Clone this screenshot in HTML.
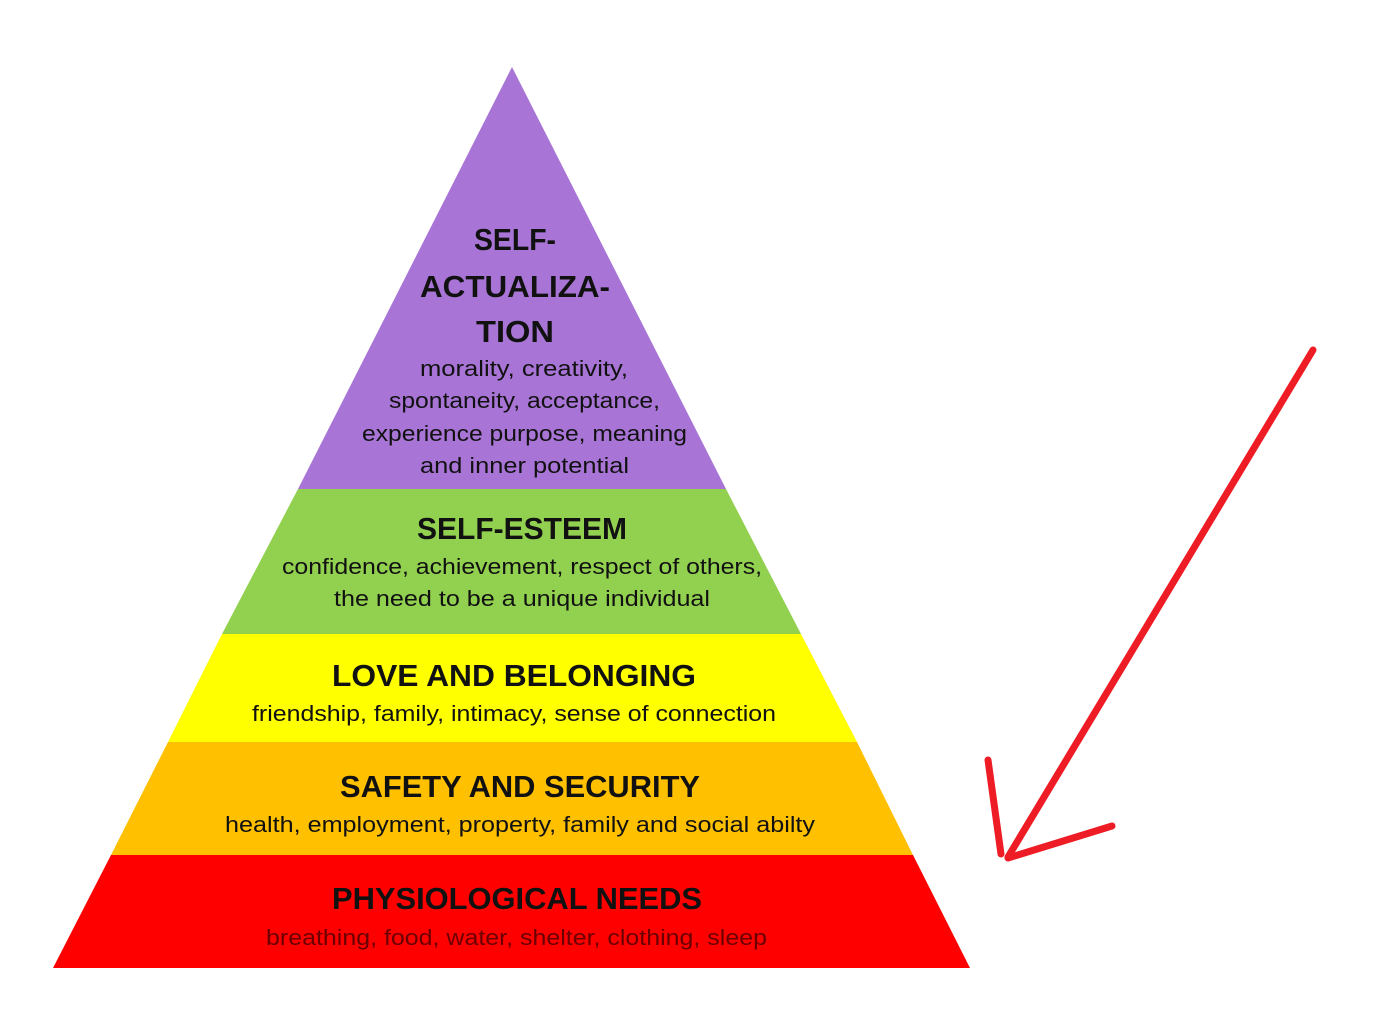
<!DOCTYPE html>
<html><head><style>html,body{margin:0;padding:0;background:#fff;}svg{display:block}</style></head>
<body>
<svg width="1378" height="1024" viewBox="0 0 1378 1024" xmlns="http://www.w3.org/2000/svg" font-family="Liberation Sans, sans-serif">
<polygon points="512,67 726,489 298,489" fill="#a875d6"/>
<polygon points="298,489 726,489 801,634 222,634" fill="#92d050"/>
<polygon points="222,634 801,634 857,742 168,742" fill="#ffff00"/>
<polygon points="168,742 857,742 913,855 111,855" fill="#ffc000"/>
<polygon points="111,855 913,855 970,968 53,968" fill="#ff0000"/>
<g fill="#111" text-anchor="start">
<g font-weight="bold" font-size="31">
<text x="474" y="250" textLength="82" lengthAdjust="spacingAndGlyphs">SELF-</text>
<text x="420" y="297" textLength="190" lengthAdjust="spacingAndGlyphs">ACTUALIZA-</text>
<text x="476" y="342" textLength="78" lengthAdjust="spacingAndGlyphs">TION</text>
<text x="417" y="539" textLength="210" lengthAdjust="spacingAndGlyphs">SELF-ESTEEM</text>
<text x="332" y="686" textLength="364" lengthAdjust="spacingAndGlyphs">LOVE AND BELONGING</text>
<text x="340" y="797" textLength="360" lengthAdjust="spacingAndGlyphs">SAFETY AND SECURITY</text>
<text x="332" y="909" textLength="370" lengthAdjust="spacingAndGlyphs">PHYSIOLOGICAL NEEDS</text>
</g>
<g font-size="22">
<text x="420" y="376" textLength="208" lengthAdjust="spacingAndGlyphs">morality, creativity,</text>
<text x="389" y="408" textLength="271" lengthAdjust="spacingAndGlyphs">spontaneity, acceptance,</text>
<text x="362" y="441" textLength="325" lengthAdjust="spacingAndGlyphs">experience purpose, meaning</text>
<text x="420" y="473" textLength="209" lengthAdjust="spacingAndGlyphs">and inner potential</text>
<text x="282" y="574" textLength="480" lengthAdjust="spacingAndGlyphs">confidence, achievement, respect of others,</text>
<text x="334" y="606" textLength="376" lengthAdjust="spacingAndGlyphs">the need to be a unique individual</text>
<text x="252" y="721" textLength="524" lengthAdjust="spacingAndGlyphs">friendship, family, intimacy, sense of connection</text>
<text x="225" y="832" textLength="590" lengthAdjust="spacingAndGlyphs">health, employment, property, family and social abilty</text>
<text x="266" y="945" textLength="501" lengthAdjust="spacingAndGlyphs" fill="#6a0000">breathing, food, water, shelter, clothing, sleep</text>
</g>
</g>
<g stroke="#ee1c24" stroke-width="7" stroke-linecap="round" fill="none">
<line x1="1313" y1="350" x2="1008" y2="857"/>
<line x1="988" y1="760" x2="1001" y2="854"/>
<line x1="1008" y1="858" x2="1112" y2="826"/>
</g>
</svg>
</body></html>
